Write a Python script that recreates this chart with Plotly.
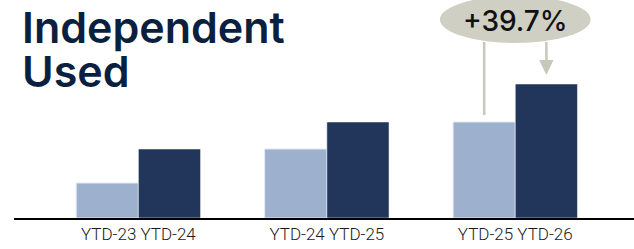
import plotly.graph_objects as go

# ---- data ----
categories = ["YTD-23 YTD-24", "YTD-24 YTD-25", "YTD-25 YTD-26"]
prior_values = [35, 69, 96]
current_values = [69, 96, 134]
change_label = "+39.7%"
title_lines = ["Independent", "Used"]

LIGHT = "#9db0cd"
DARK = "#22365c"
NAVY = "#0b1f3f"
BUBBLE = "#cfcfc3"
LINEC = "#c7c7ba"

bargap = 0.34
bar_w = (1 - bargap) / 2
off = bar_w / 2
xs = list(range(len(categories)))

fig = go.Figure()
fig.add_trace(go.Bar(x=xs, y=prior_values, marker=dict(color=LIGHT, line=dict(color="#e4e9f0", width=1)),
                     hoverinfo="skip", showlegend=False))
fig.add_trace(go.Bar(x=xs, y=current_values, marker=dict(color=DARK, line=dict(color="#ffffff", width=0.5)),
                     hoverinfo="skip", showlegend=False))

idx = len(categories) - 1
x_prev = idx - off
x_cur = idx + off
bubble_bottom = 175
bubble_top = 222
half_w = 0.40

shapes = [
    dict(type="circle", xref="x", yref="y", x0=idx - half_w, x1=idx + half_w,
         y0=bubble_bottom, y1=bubble_top, fillcolor=BUBBLE, line=dict(width=0), layer="above"),
    dict(type="line", xref="x", yref="y", x0=x_prev, x1=x_prev, y0=bubble_bottom + 1,
         y1=prior_values[idx] + 7, line=dict(color=LINEC, width=2.5)),
    dict(type="line", xref="x", yref="y", x0=x_cur, x1=x_cur, y0=bubble_bottom + 1,
         y1=current_values[idx] + 22, line=dict(color=LINEC, width=2.5)),
    dict(type="path", xref="x", yref="y",
         path=f"M {x_cur - 0.038} {current_values[idx] + 24} L {x_cur + 0.038} {current_values[idx] + 24} "
              f"L {x_cur} {current_values[idx] + 9} Z",
         fillcolor=LINEC, line=dict(width=0)),
]

annotations = [
    dict(x=idx, y=(bubble_bottom + bubble_top) / 2 - 1, xref="x", yref="y", text=change_label,
         showarrow=False, font=dict(family="Inter", size=28, color="#111111", weight=500)),
    dict(x=(20 - 14) / 620, y=(218 - 27) / 218, xref="paper", yref="paper", text=title_lines[0],
         xanchor="left", yanchor="middle", showarrow=False,
         font=dict(family="Inter", size=43, color=NAVY, weight=600)),
    dict(x=(20 - 14) / 620, y=(218 - 71) / 218, xref="paper", yref="paper", text=title_lines[1],
         xanchor="left", yanchor="middle", showarrow=False,
         font=dict(family="Inter", size=43, color=NAVY, weight=600)),
]

fig.update_layout(
    width=634, height=249,
    margin=dict(l=14, r=0, t=0, b=31),
    paper_bgcolor="white", plot_bgcolor="white",
    barmode="group", bargap=bargap, bargroupgap=0,
    shapes=shapes, annotations=annotations,
    xaxis=dict(range=[-0.66, 2.63], tickvals=xs, ticktext=categories, showgrid=False,
               zeroline=False, showline=True, linecolor="#000000", linewidth=2, ticks="",
               tickfont=dict(family="Roboto", size=17, color="#1a1a1a", weight=300)),
    yaxis=dict(range=[0, 218], visible=False, showgrid=False, zeroline=False),
)

fig.write_html("out.html", config={"displayModeBar": False},
               post_script="document.body.style.margin='0';document.body.style.overflow='hidden';")
